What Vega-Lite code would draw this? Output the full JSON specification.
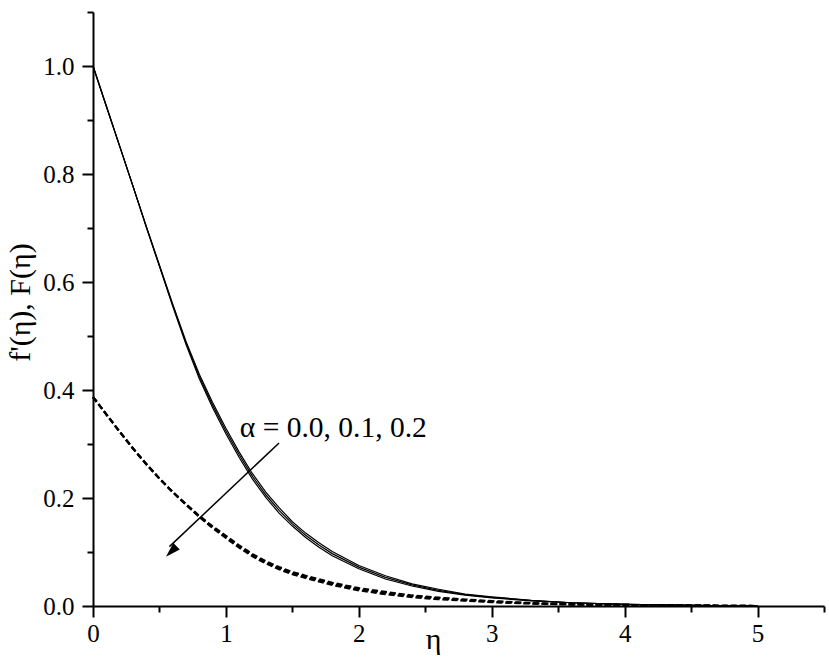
{
  "$schema": "https://vega.github.io/schema/vega-lite/v6.json",
  "width": 731,
  "height": 594,
  "autosize": {"type": "none"},
  "padding": {"left": 93, "top": 12, "right": 5, "bottom": 63},
  "background": "white",
  "config": {"view": {"stroke": null}, "font": "Liberation Serif"},
  "datasets": {
    "solid": [
      {"series": "a0", "eta": 0, "value": 1.0}, {"series": "a0", "eta": 0.1, "value": 0.926}, {"series": "a0", "eta": 0.2, "value": 0.852}, {"series": "a0", "eta": 0.3, "value": 0.778}, {"series": "a0", "eta": 0.4, "value": 0.704}, {"series": "a0", "eta": 0.5, "value": 0.631}, {"series": "a0", "eta": 0.6, "value": 0.559}, {"series": "a0", "eta": 0.7, "value": 0.49}, {"series": "a0", "eta": 0.8, "value": 0.429}, {"series": "a0", "eta": 0.9, "value": 0.377}, {"series": "a0", "eta": 1.0, "value": 0.329}, {"series": "a0", "eta": 1.1, "value": 0.285}, {"series": "a0", "eta": 1.2, "value": 0.245}, {"series": "a0", "eta": 1.3, "value": 0.211}, {"series": "a0", "eta": 1.4, "value": 0.182}, {"series": "a0", "eta": 1.5, "value": 0.156}, {"series": "a0", "eta": 1.6, "value": 0.135}, {"series": "a0", "eta": 1.7, "value": 0.117}, {"series": "a0", "eta": 1.8, "value": 0.101}, {"series": "a0", "eta": 2.0, "value": 0.075}, {"series": "a0", "eta": 2.2, "value": 0.056}, {"series": "a0", "eta": 2.4, "value": 0.041}, {"series": "a0", "eta": 2.6, "value": 0.031}, {"series": "a0", "eta": 2.8, "value": 0.022}, {"series": "a0", "eta": 3.0, "value": 0.017}, {"series": "a0", "eta": 3.3, "value": 0.0105}, {"series": "a0", "eta": 3.6, "value": 0.006}, {"series": "a0", "eta": 4.0, "value": 0.003}, {"series": "a0", "eta": 4.4, "value": 0.0015}, {"series": "a0", "eta": 4.8, "value": 0.0005}, {"series": "a0", "eta": 5.0, "value": 0.0},
      {"series": "a1", "eta": 0, "value": 1.0}, {"series": "a1", "eta": 0.1, "value": 0.926}, {"series": "a1", "eta": 0.2, "value": 0.852}, {"series": "a1", "eta": 0.3, "value": 0.778}, {"series": "a1", "eta": 0.4, "value": 0.703}, {"series": "a1", "eta": 0.5, "value": 0.63}, {"series": "a1", "eta": 0.6, "value": 0.557}, {"series": "a1", "eta": 0.7, "value": 0.487}, {"series": "a1", "eta": 0.8, "value": 0.425}, {"series": "a1", "eta": 0.9, "value": 0.372}, {"series": "a1", "eta": 1.0, "value": 0.324}, {"series": "a1", "eta": 1.1, "value": 0.28}, {"series": "a1", "eta": 1.2, "value": 0.24}, {"series": "a1", "eta": 1.3, "value": 0.206}, {"series": "a1", "eta": 1.4, "value": 0.177}, {"series": "a1", "eta": 1.5, "value": 0.152}, {"series": "a1", "eta": 1.6, "value": 0.131}, {"series": "a1", "eta": 1.7, "value": 0.113}, {"series": "a1", "eta": 1.8, "value": 0.097}, {"series": "a1", "eta": 2.0, "value": 0.072}, {"series": "a1", "eta": 2.2, "value": 0.053}, {"series": "a1", "eta": 2.4, "value": 0.039}, {"series": "a1", "eta": 2.6, "value": 0.029}, {"series": "a1", "eta": 2.8, "value": 0.021}, {"series": "a1", "eta": 3.0, "value": 0.016}, {"series": "a1", "eta": 3.3, "value": 0.01}, {"series": "a1", "eta": 3.6, "value": 0.006}, {"series": "a1", "eta": 4.0, "value": 0.003}, {"series": "a1", "eta": 4.4, "value": 0.0015}, {"series": "a1", "eta": 4.8, "value": 0.0005}, {"series": "a1", "eta": 5.0, "value": 0.0},
      {"series": "a2", "eta": 0, "value": 1.0}, {"series": "a2", "eta": 0.1, "value": 0.926}, {"series": "a2", "eta": 0.2, "value": 0.852}, {"series": "a2", "eta": 0.3, "value": 0.778}, {"series": "a2", "eta": 0.4, "value": 0.702}, {"series": "a2", "eta": 0.5, "value": 0.629}, {"series": "a2", "eta": 0.6, "value": 0.555}, {"series": "a2", "eta": 0.7, "value": 0.484}, {"series": "a2", "eta": 0.8, "value": 0.421}, {"series": "a2", "eta": 0.9, "value": 0.367}, {"series": "a2", "eta": 1.0, "value": 0.319}, {"series": "a2", "eta": 1.1, "value": 0.275}, {"series": "a2", "eta": 1.2, "value": 0.235}, {"series": "a2", "eta": 1.3, "value": 0.201}, {"series": "a2", "eta": 1.4, "value": 0.172}, {"series": "a2", "eta": 1.5, "value": 0.148}, {"series": "a2", "eta": 1.6, "value": 0.127}, {"series": "a2", "eta": 1.7, "value": 0.109}, {"series": "a2", "eta": 1.8, "value": 0.093}, {"series": "a2", "eta": 2.0, "value": 0.069}, {"series": "a2", "eta": 2.2, "value": 0.05}, {"series": "a2", "eta": 2.4, "value": 0.037}, {"series": "a2", "eta": 2.6, "value": 0.027}, {"series": "a2", "eta": 2.8, "value": 0.02}, {"series": "a2", "eta": 3.0, "value": 0.015}, {"series": "a2", "eta": 3.3, "value": 0.0095}, {"series": "a2", "eta": 3.6, "value": 0.006}, {"series": "a2", "eta": 4.0, "value": 0.003}, {"series": "a2", "eta": 4.4, "value": 0.0015}, {"series": "a2", "eta": 4.8, "value": 0.0005}, {"series": "a2", "eta": 5.0, "value": 0.0}
    ],
    "dashed": [
      {"series": "b0", "eta": 0, "value": 0.387}, {"series": "b0", "eta": 0.1, "value": 0.355}, {"series": "b0", "eta": 0.2, "value": 0.323}, {"series": "b0", "eta": 0.3, "value": 0.292}, {"series": "b0", "eta": 0.4, "value": 0.263}, {"series": "b0", "eta": 0.5, "value": 0.236}, {"series": "b0", "eta": 0.6, "value": 0.211}, {"series": "b0", "eta": 0.7, "value": 0.1885}, {"series": "b0", "eta": 0.8, "value": 0.167}, {"series": "b0", "eta": 0.9, "value": 0.1475}, {"series": "b0", "eta": 1.0, "value": 0.13}, {"series": "b0", "eta": 1.1, "value": 0.112}, {"series": "b0", "eta": 1.2, "value": 0.096}, {"series": "b0", "eta": 1.3, "value": 0.083}, {"series": "b0", "eta": 1.4, "value": 0.072}, {"series": "b0", "eta": 1.5, "value": 0.063}, {"series": "b0", "eta": 1.6, "value": 0.056}, {"series": "b0", "eta": 1.8, "value": 0.043}, {"series": "b0", "eta": 2.0, "value": 0.033}, {"series": "b0", "eta": 2.2, "value": 0.026}, {"series": "b0", "eta": 2.4, "value": 0.0195}, {"series": "b0", "eta": 2.6, "value": 0.0155}, {"series": "b0", "eta": 2.8, "value": 0.012}, {"series": "b0", "eta": 3.0, "value": 0.009}, {"series": "b0", "eta": 3.3, "value": 0.0055}, {"series": "b0", "eta": 3.6, "value": 0.003}, {"series": "b0", "eta": 4.0, "value": 0.002}, {"series": "b0", "eta": 4.4, "value": 0.001}, {"series": "b0", "eta": 4.8, "value": 0.0003}, {"series": "b0", "eta": 5.0, "value": 0.0},
      {"series": "b1", "eta": 0, "value": 0.387}, {"series": "b1", "eta": 0.1, "value": 0.355}, {"series": "b1", "eta": 0.2, "value": 0.323}, {"series": "b1", "eta": 0.3, "value": 0.292}, {"series": "b1", "eta": 0.4, "value": 0.263}, {"series": "b1", "eta": 0.5, "value": 0.236}, {"series": "b1", "eta": 0.6, "value": 0.211}, {"series": "b1", "eta": 0.7, "value": 0.188}, {"series": "b1", "eta": 0.8, "value": 0.166}, {"series": "b1", "eta": 0.9, "value": 0.146}, {"series": "b1", "eta": 1.0, "value": 0.128}, {"series": "b1", "eta": 1.1, "value": 0.11}, {"series": "b1", "eta": 1.2, "value": 0.094}, {"series": "b1", "eta": 1.3, "value": 0.081}, {"series": "b1", "eta": 1.4, "value": 0.07}, {"series": "b1", "eta": 1.5, "value": 0.061}, {"series": "b1", "eta": 1.6, "value": 0.054}, {"series": "b1", "eta": 1.8, "value": 0.041}, {"series": "b1", "eta": 2.0, "value": 0.031}, {"series": "b1", "eta": 2.2, "value": 0.024}, {"series": "b1", "eta": 2.4, "value": 0.018}, {"series": "b1", "eta": 2.6, "value": 0.014}, {"series": "b1", "eta": 2.8, "value": 0.011}, {"series": "b1", "eta": 3.0, "value": 0.008}, {"series": "b1", "eta": 3.3, "value": 0.005}, {"series": "b1", "eta": 3.6, "value": 0.003}, {"series": "b1", "eta": 4.0, "value": 0.002}, {"series": "b1", "eta": 4.4, "value": 0.001}, {"series": "b1", "eta": 4.8, "value": 0.0003}, {"series": "b1", "eta": 5.0, "value": 0.0},
      {"series": "b2", "eta": 0, "value": 0.387}, {"series": "b2", "eta": 0.1, "value": 0.355}, {"series": "b2", "eta": 0.2, "value": 0.323}, {"series": "b2", "eta": 0.3, "value": 0.292}, {"series": "b2", "eta": 0.4, "value": 0.263}, {"series": "b2", "eta": 0.5, "value": 0.236}, {"series": "b2", "eta": 0.6, "value": 0.211}, {"series": "b2", "eta": 0.7, "value": 0.1875}, {"series": "b2", "eta": 0.8, "value": 0.165}, {"series": "b2", "eta": 0.9, "value": 0.1445}, {"series": "b2", "eta": 1.0, "value": 0.126}, {"series": "b2", "eta": 1.1, "value": 0.108}, {"series": "b2", "eta": 1.2, "value": 0.092}, {"series": "b2", "eta": 1.3, "value": 0.079}, {"series": "b2", "eta": 1.4, "value": 0.068}, {"series": "b2", "eta": 1.5, "value": 0.059}, {"series": "b2", "eta": 1.6, "value": 0.052}, {"series": "b2", "eta": 1.8, "value": 0.039}, {"series": "b2", "eta": 2.0, "value": 0.029}, {"series": "b2", "eta": 2.2, "value": 0.022}, {"series": "b2", "eta": 2.4, "value": 0.0165}, {"series": "b2", "eta": 2.6, "value": 0.0125}, {"series": "b2", "eta": 2.8, "value": 0.01}, {"series": "b2", "eta": 3.0, "value": 0.007}, {"series": "b2", "eta": 3.3, "value": 0.0045}, {"series": "b2", "eta": 3.6, "value": 0.003}, {"series": "b2", "eta": 4.0, "value": 0.002}, {"series": "b2", "eta": 4.4, "value": 0.001}, {"series": "b2", "eta": 4.8, "value": 0.0003}, {"series": "b2", "eta": 5.0, "value": 0.0}
    ],
    "arrow": [
      {"eta": 1.4, "value": 0.302, "o": 0},
      {"eta": 0.575, "value": 0.11, "o": 1}
    ],
    "head": [
      {"eta": 0.549, "value": 0.091}
    ],
    "label": [
      {"eta": 1.105, "value": 0.313, "text": "α = 0.0, 0.1, 0.2"}
    ]
  },
  "encoding": {
    "x": {
      "field": "eta",
      "type": "quantitative",
      "scale": {"domain": [0, 5.5], "nice": false, "zero": false},
      "axis": {
        "title": "η",
        "values": [0, 0.5, 1, 1.5, 2, 2.5, 3, 3.5, 4, 4.5, 5, 5.5],
        "labelExpr": "datum.value % 1 == 0 ? format(datum.value, 'd') : ''",
        "tickSize": {"condition": {"test": "datum.value % 1 != 0", "value": 6}, "value": 11},
        "grid": false,
        "domainColor": "black",
        "domainWidth": 2,
        "tickColor": "black",
        "tickWidth": 2,
        "labelFont": "Liberation Serif",
        "labelFontSize": 25,
        "labelColor": "black",
        "labelPadding": 4,
        "labelFlush": false,
        "labelOverlap": false,
        "labelBound": false,
        "titleFont": "Liberation Serif",
        "titleFontSize": 30,
        "titleFontWeight": "normal",
        "titleColor": "black",
        "titleX": 340,
        "titleY": 42,
        "titleBaseline": "alphabetic"
      }
    },
    "y": {
      "field": "value",
      "type": "quantitative",
      "scale": {"domain": [0, 1.1], "nice": false, "zero": false},
      "axis": {
        "title": "f'(η), F(η)",
        "values": [0, 0.1, 0.2, 0.3, 0.4, 0.5, 0.6, 0.7, 0.8, 0.9, 1.0, 1.1],
        "labelExpr": "round(datum.value * 10) % 2 == 0 ? format(datum.value, '.1f') : ''",
        "tickSize": {"condition": {"test": "round(datum.value * 10) % 2 == 1", "value": 6}, "value": 11},
        "grid": false,
        "domainColor": "black",
        "domainWidth": 2,
        "tickColor": "black",
        "tickWidth": 2,
        "labelFont": "Liberation Serif",
        "labelFontSize": 25,
        "labelColor": "black",
        "labelPadding": 8,
        "labelFlush": false,
        "labelOverlap": false,
        "labelBound": false,
        "titleFont": "Liberation Serif",
        "titleFontSize": 30,
        "titleFontWeight": "normal",
        "titleColor": "black",
        "titleAngle": -90,
        "titleX": -73,
        "titleY": 290,
        "titleAlign": "center",
        "titleBaseline": "middle"
      }
    }
  },
  "layer": [
    {
      "data": {"name": "solid"},
      "mark": {"type": "line", "color": "black", "strokeWidth": 1.2},
      "encoding": {"detail": {"field": "series"}}
    },
    {
      "data": {"name": "dashed"},
      "mark": {"type": "line", "color": "black", "strokeWidth": 2.2, "strokeDash": [6, 3]},
      "encoding": {"detail": {"field": "series"}}
    },
    {
      "data": {"name": "arrow"},
      "mark": {"type": "line", "color": "black", "strokeWidth": 1.5},
      "encoding": {"order": {"field": "o"}}
    },
    {
      "data": {"name": "head"},
      "mark": {"type": "point", "shape": "M0,0L-0.3,1L0.3,1Z", "filled": true, "color": "black", "opacity": 1, "size": 900, "angle": 225}
    },
    {
      "data": {"name": "label"},
      "mark": {"type": "text", "align": "left", "baseline": "alphabetic", "fontSize": 29.5, "font": "Liberation Serif", "color": "black"},
      "encoding": {"text": {"field": "text"}}
    }
  ]
}
